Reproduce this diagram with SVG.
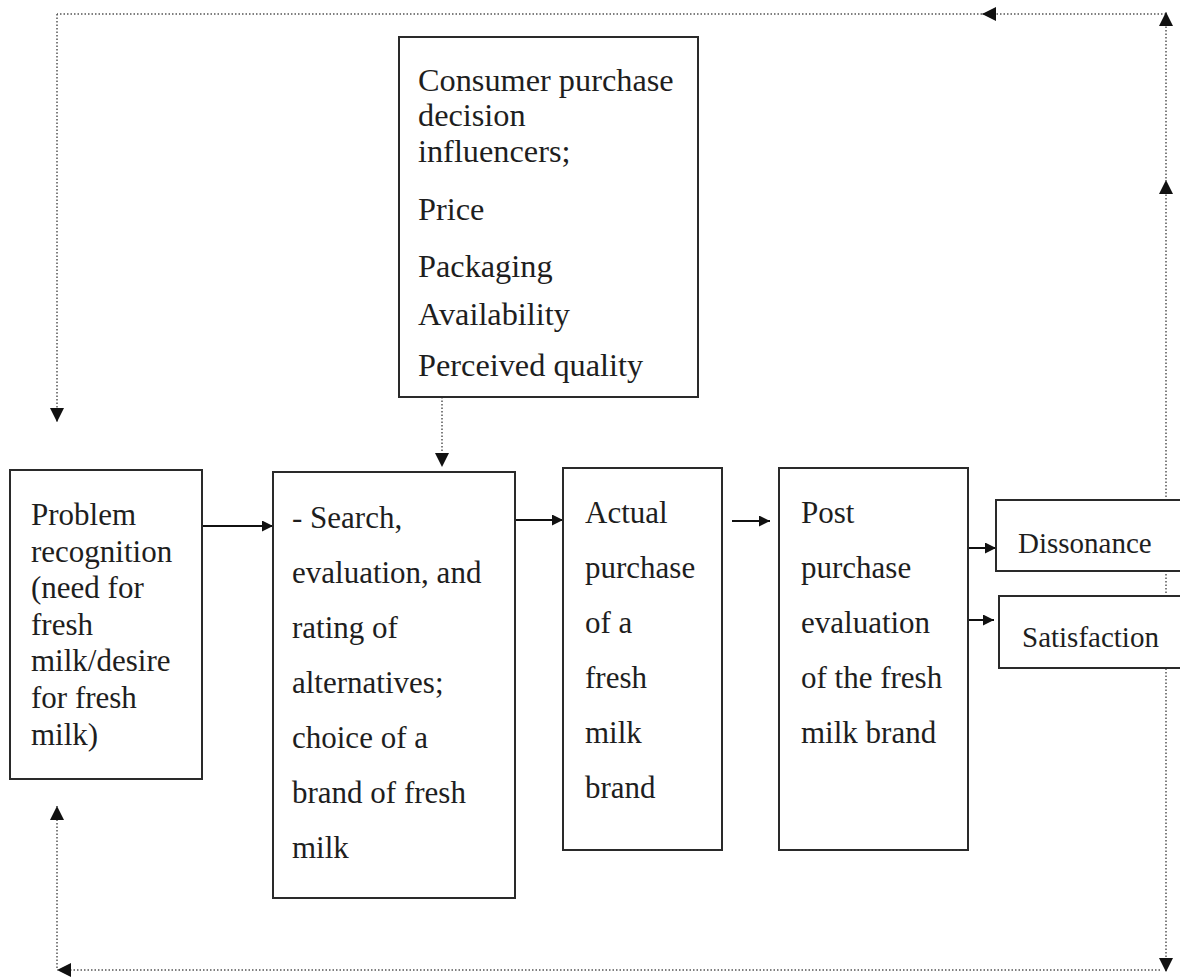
<svg xmlns="http://www.w3.org/2000/svg" width="1180" height="979" viewBox="0 0 1180 979">
<defs>
<marker id="dh" viewBox="0 0 10 10" refX="10" refY="5" markerUnits="userSpaceOnUse" markerWidth="15" markerHeight="14" orient="auto"><path d="M0,0 L10,5 L0,10 z" fill="#111"/></marker>
<marker id="sh" viewBox="0 0 10 10" refX="10" refY="5" markerUnits="userSpaceOnUse" markerWidth="14" markerHeight="11" orient="auto"><path d="M0,0 L10,5 L0,10 z" fill="#111"/></marker>
</defs>
<style>
.box{fill:#fff;stroke:#2a2a2a;stroke-width:2}
.t{font-family:"Liberation Serif","Times New Roman",serif;font-size:31px;fill:#1e1e1e}
.c{font-family:"Liberation Serif","Times New Roman",serif;font-size:32.3px;fill:#1e1e1e}
.s{font-family:"Liberation Serif","Times New Roman",serif;font-size:29px;fill:#1e1e1e}
.dot{fill:none;stroke:#555;stroke-width:1.5;stroke-dasharray:1.5 2}
.sol{fill:none;stroke:#111;stroke-width:2}
</style>
<rect width="1180" height="979" fill="#fff"/>
<g id="connectors">
<path class="dot" d="M1166,14 L982,14" marker-end="url(#dh)"/>
<path class="dot" d="M982,14 L57,14"/>
<path class="dot" d="M57,14 L57,422" marker-end="url(#dh)"/>
<path class="dot" d="M1166,560 L1166,180" marker-end="url(#dh)"/>
<path class="dot" d="M1166,182 L1166,12" marker-end="url(#dh)"/>
<path class="dot" d="M1166,560 L1166,972" marker-end="url(#dh)"/>
<path class="dot" d="M1160,970 L57,970" marker-end="url(#dh)"/>
<path class="dot" d="M57,968 L57,806" marker-end="url(#dh)"/>
<path class="dot" d="M442,397 L442,467" marker-end="url(#dh)"/>
<path class="sol" d="M202,526 L273,526" marker-end="url(#sh)"/>
<path class="sol" d="M515,520 L563,520" marker-end="url(#sh)"/>
<path class="sol" d="M732,521 L770,521" marker-end="url(#sh)"/>
<path class="sol" d="M968,548 L996,548" marker-end="url(#sh)"/>
<path class="sol" d="M968,620 L994,620" marker-end="url(#sh)"/>
</g>
<g id="influencers">
<rect class="box" x="399" y="37" width="299" height="360"/>
<text class="c" x="418" y="91">Consumer purchase</text>
<text class="c" x="418" y="126">decision</text>
<text class="c" x="418" y="162">influencers;</text>
<text class="c" x="418" y="220">Price</text>
<text class="c" x="418" y="277">Packaging</text>
<text class="c" x="418" y="325">Availability</text>
<text class="c" x="418" y="376">Perceived quality</text>
</g>
<g id="problem">
<rect class="box" x="10" y="470" width="192" height="309"/>
<text class="t" x="31" y="525">Problem</text>
<text class="t" x="31" y="561.6">recognition</text>
<text class="t" x="31" y="598.2">(need for</text>
<text class="t" x="31" y="634.8">fresh</text>
<text class="t" x="31" y="671.4">milk/desire</text>
<text class="t" x="31" y="708">for fresh</text>
<text class="t" x="31" y="744.6">milk)</text>
</g>
<g id="search">
<rect class="box" x="273" y="472" width="242" height="426"/>
<text class="t" x="292" y="528">- Search,</text>
<text class="t" x="292" y="583">evaluation, and</text>
<text class="t" x="292" y="638">rating of</text>
<text class="t" x="292" y="693">alternatives;</text>
<text class="t" x="292" y="748">choice of a</text>
<text class="t" x="292" y="803">brand of fresh</text>
<text class="t" x="292" y="858">milk</text>
</g>
<g id="purchase">
<rect class="box" x="563" y="468" width="159" height="382"/>
<text class="t" x="585" y="523">Actual</text>
<text class="t" x="585" y="578">purchase</text>
<text class="t" x="585" y="633">of a</text>
<text class="t" x="585" y="688">fresh</text>
<text class="t" x="585" y="743">milk</text>
<text class="t" x="585" y="798">brand</text>
</g>
<g id="post">
<rect class="box" x="779" y="468" width="189" height="382"/>
<text class="t" x="801" y="523">Post</text>
<text class="t" x="801" y="578">purchase</text>
<text class="t" x="801" y="633">evaluation</text>
<text class="t" x="801" y="688">of the fresh</text>
<text class="t" x="801" y="743">milk brand</text>
</g>
<g id="dissonance">
<rect class="box" x="996" y="500" width="200" height="71"/>
<text class="s" x="1018" y="553">Dissonance</text>
</g>
<g id="satisfaction">
<rect class="box" x="999" y="596" width="200" height="72"/>
<text class="s" x="1022" y="647">Satisfaction</text>
</g>
</svg>
